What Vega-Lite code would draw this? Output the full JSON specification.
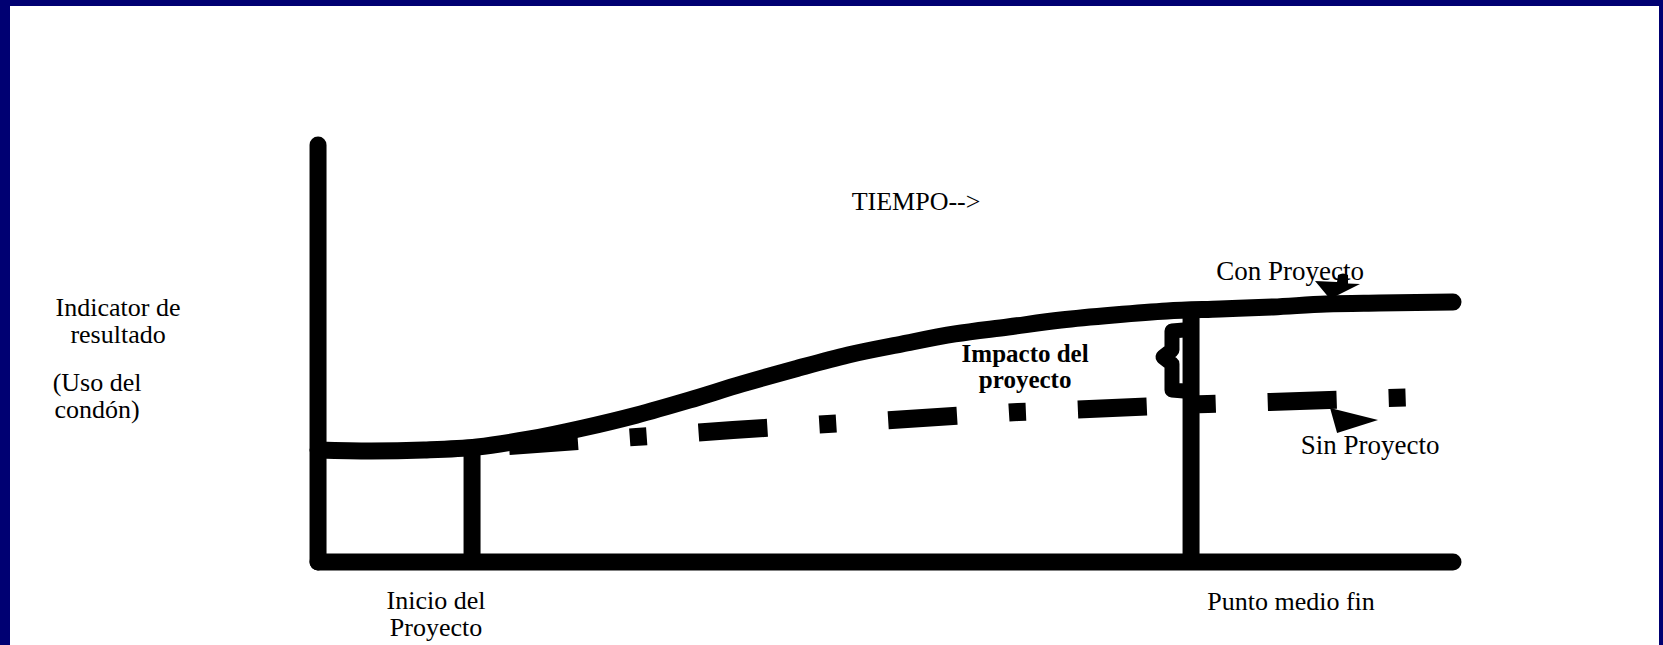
{
  "$schema": "https://vega.github.io/schema/vega-lite/v6.json",
  "width": 1663,
  "height": 645,
  "autosize": {"type": "fit", "contains": "padding"},
  "padding": {"left": 10, "top": 6, "right": 4, "bottom": 0},
  "background": "#000072",
  "config": {"view": {"fill": "white", "stroke": null}},
  "datasets": {
    "curva": [
      {"x": 0, "y": 26.86}, {"x": 4.67, "y": 26.62}, {"x": 9.34, "y": 26.86}, {"x": 14.01, "y": 27.58},
      {"x": 18.68, "y": 29.5}, {"x": 23.35, "y": 32.13}, {"x": 28.02, "y": 35.2}, {"x": 32.69, "y": 38.8},
      {"x": 37.36, "y": 42.69}, {"x": 42.03, "y": 46.28}, {"x": 46.7, "y": 49.64}, {"x": 51.45, "y": 52.28},
      {"x": 56.12, "y": 54.68}, {"x": 60.79, "y": 56.35}, {"x": 65.46, "y": 58.03}, {"x": 70.13, "y": 59.23},
      {"x": 74.8, "y": 60.19}, {"x": 79.47, "y": 60.67}, {"x": 84.14, "y": 61.15}, {"x": 88.81, "y": 61.87},
      {"x": 93.48, "y": 62.11}, {"x": 100, "y": 62.35}
    ],
    "sin": [
      {"x": 16.83, "y": 27.82}, {"x": 36.56, "y": 31.65}, {"x": 61.67, "y": 35.97},
      {"x": 78.41, "y": 37.89}, {"x": 95.95, "y": 39.45}
    ],
    "llave": [
      {"i": 1, "x": 76.3, "y": 55.64}, {"i": 2, "x": 75.24, "y": 55.4}, {"i": 3, "x": 75.24, "y": 50.84},
      {"i": 4, "x": 74.45, "y": 49.16}, {"i": 5, "x": 75.24, "y": 47.48}, {"i": 6, "x": 75.24, "y": 41.25},
      {"i": 7, "x": 76.3, "y": 41.01}
    ],
    "ejes": [
      {"x": 0, "y": 0, "x2": 0, "y2": 100},
      {"x": 0, "y": 0, "x2": 100, "y2": 0}
    ],
    "guias": [
      {"x": 13.57, "y": 0, "x2": 13.57, "y2": 27.4},
      {"x": 76.92, "y": 0, "x2": 76.92, "y2": 61.5}
    ],
    "flechas": [
      {"serie": "Con Proyecto", "x": 89.87, "y": 66.19},
      {"serie": "Sin Proyecto", "x": 90.93, "y": 34.05}
    ],
    "textos": [
      {"grupo": "eje", "label": ["Indicator de", "resultado"], "x": -17.62, "y": 58.99},
      {"grupo": "eje", "label": ["(Uso del", "condón)"], "x": -19.47, "y": 41.01},
      {"grupo": "eje", "label": ["Inicio del", "Proyecto"], "x": 10.4, "y": -11.27},
      {"grupo": "eje", "label": ["Punto medio fin"], "x": 85.73, "y": -11.51},
      {"grupo": "titulo", "label": "TIEMPO-->", "x": 52.69, "y": 84.41},
      {"grupo": "serie", "label": "Con Proyecto", "x": 85.64, "y": 67.63},
      {"grupo": "serie", "label": "Sin Proyecto", "x": 92.69, "y": 25.9},
      {"grupo": "impacto", "label": ["Impacto del", "proyecto"], "x": 62.3, "y": 47.96}
    ]
  },
  "encoding": {
    "x": {"field": "x", "type": "quantitative", "scale": {"domain": [-27.14, 118.15], "nice": false, "zero": false}, "axis": null},
    "y": {"field": "y", "type": "quantitative", "scale": {"domain": [-19.91, 133.33], "nice": false, "zero": false}, "axis": null}
  },
  "layer": [
    {
      "data": {"name": "textos"},
      "transform": [{"filter": "datum.grupo === 'eje'"}],
      "mark": {"type": "text", "font": "Liberation Serif", "fontSize": 26, "lineHeight": 27, "align": "center", "baseline": "alphabetic", "color": "black"},
      "encoding": {"text": {"field": "label"}}
    },
    {
      "data": {"name": "textos"},
      "transform": [{"filter": "datum.grupo === 'titulo'"}],
      "mark": {"type": "text", "font": "Liberation Serif", "fontSize": 26, "align": "center", "baseline": "alphabetic", "color": "black"},
      "encoding": {"text": {"field": "label"}}
    },
    {
      "data": {"name": "textos"},
      "transform": [{"filter": "datum.grupo === 'serie'"}],
      "mark": {"type": "text", "font": "Liberation Serif", "fontSize": 27, "align": "center", "baseline": "alphabetic", "color": "black"},
      "encoding": {"text": {"field": "label"}}
    },
    {
      "data": {"name": "textos"},
      "transform": [{"filter": "datum.grupo === 'impacto'"}],
      "mark": {"type": "text", "font": "Liberation Serif", "fontSize": 25, "lineHeight": 26, "fontWeight": "bold", "align": "center", "baseline": "alphabetic", "color": "black"},
      "encoding": {"text": {"field": "label"}}
    },
    {
      "data": {"name": "sin"},
      "mark": {"type": "line", "color": "black", "strokeWidth": 18, "strokeCap": "butt", "strokeDash": [69, 52, 17, 52]},
      "encoding": {}
    },
    {
      "data": {"name": "curva"},
      "mark": {"type": "line", "color": "black", "strokeWidth": 17, "strokeCap": "round", "interpolate": "monotone"},
      "encoding": {}
    },
    {
      "data": {"name": "ejes"},
      "mark": {"type": "rule", "color": "black", "strokeWidth": 17, "strokeCap": "round"},
      "encoding": {"x2": {"field": "x2"}, "y2": {"field": "y2"}}
    },
    {
      "data": {"name": "guias"},
      "mark": {"type": "rule", "color": "black", "strokeWidth": 17, "strokeCap": "butt"},
      "encoding": {"x2": {"field": "x2"}, "y2": {"field": "y2"}}
    },
    {
      "data": {"name": "llave"},
      "mark": {"type": "line", "color": "black", "strokeWidth": 15, "strokeCap": "round", "strokeJoin": "round"},
      "encoding": {"order": {"field": "i", "type": "quantitative"}}
    },
    {
      "data": {"name": "flechas"},
      "transform": [{"filter": "datum.serie === 'Con Proyecto'"}],
      "mark": {"type": "point", "filled": true, "color": "black", "opacity": 1, "strokeWidth": 0, "size": 2500,
        "shape": "M -0.92 -0.2 L -0.04 -0.16 L 0 -0.44 Q 0.2 -0.56 0.4 -0.44 L 0.4 -0.1 L 0.88 -0.08 L -0.32 0.52 Z"},
      "encoding": {}
    },
    {
      "data": {"name": "flechas"},
      "transform": [{"filter": "datum.serie === 'Sin Proyecto'"}],
      "mark": {"type": "point", "filled": true, "color": "black", "opacity": 1, "strokeWidth": 0, "size": 3136,
        "shape": "M -0.714 -0.429 L 1 0 L -0.464 0.464 Z"},
      "encoding": {}
    }
  ]
}
